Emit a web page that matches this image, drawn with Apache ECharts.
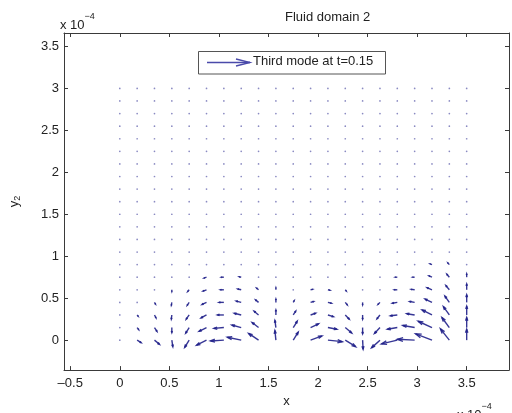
<!DOCTYPE html>
<html>
<head>
<meta charset="utf-8">
<script src="https://cdn.jsdelivr.net/npm/echarts@6/dist/echarts.min.js"></script>
<style>
  html, body { margin: 0; padding: 0; background: #ffffff; }
  #chart { width: 512px; height: 413px; }
</style>
</head>
<body>
<div id="chart"></div>
<script>
// Quiver grid (x, y in units of 1e-4)
const gridX = [0, 0.175, 0.35, 0.525, 0.7, 0.875, 1.05, 1.225, 1.4, 1.575, 1.75,
               1.925, 2.1, 2.275, 2.45, 2.625, 2.8, 2.975, 3.15, 3.325, 3.5];
const gridY = [0, 0.15, 0.3, 0.45, 0.6, 0.75, 0.9, 1.05, 1.2, 1.35, 1.5,
               1.65, 1.8, 1.95, 2.1, 2.25, 2.4, 2.55, 2.7, 2.85, 3.0];

// Tick values
const xTicks = [-0.5, 0, 0.5, 1, 1.5, 2, 2.5, 3, 3.5];
const yTicks = [0, 0.5, 1, 1.5, 2, 2.5, 3, 3.5];

// Velocity components (already scaled to axis units), one row per gridY value
// starting at y = 0; rows not listed carry no visible velocity.
const uRows = [
  [0, 0.04, 0.05, 0.01, -0.045, -0.1, -0.135, -0.14, -0.1, -0.01, 0.05, 0.115, 0.145, 0.105, 0.005, -0.085, -0.16, -0.175, -0.165, -0.09, 0],
  [0, 0.015, 0.025, 0, -0.035, -0.075, -0.1, -0.095, -0.065, -0.01, 0.04, 0.08, 0.09, 0.065, 0, -0.055, -0.1, -0.12, -0.14, -0.075, 0],
  [0, 0.01, 0.015, -0.005, -0.03, -0.055, -0.065, -0.07, -0.045, 0, 0.025, 0.05, 0.055, 0.04, 0, -0.03, -0.07, -0.08, -0.1, -0.06, 0],
  [0, 0.005, 0.01, -0.005, -0.02, -0.045, -0.05, -0.05, -0.03, 0, 0.01, 0.03, 0.035, 0.02, 0, -0.02, -0.05, -0.05, -0.07, -0.045, 0],
  [0, 0, 0.005, 0, -0.015, -0.035, -0.035, -0.035, -0.02, 0, 0.005, 0.02, 0.02, 0.01, 0, -0.01, -0.03, -0.035, -0.05, -0.035, 0],
  [0, 0, 0, 0, -0.01, -0.025, -0.025, -0.02, -0.01, 0, 0, 0.01, 0.01, 0.005, 0, -0.005, -0.02, -0.02, -0.03, -0.025, 0],
  [0, 0, 0, 0, -0.005, -0.015, -0.015, -0.01, -0.005, 0, 0, 0.005, 0.005, 0, 0, 0, -0.01, -0.012, -0.02, -0.015, 0],
  [0, 0, 0, 0, 0, -0.008, -0.008, -0.005, 0, 0, 0, 0, 0, 0, 0, 0, -0.006, -0.008, -0.012, -0.01, 0],
  [0, 0, 0, 0, 0, 0, 0, 0, 0, 0, 0, 0, 0, 0, 0, 0, 0, -0.005, -0.008, -0.006, 0]
];
const vRows = [
  [0, -0.03, -0.05, -0.078, -0.085, -0.06, -0.01, 0.035, 0.08, 0.115, 0.095, 0.05, -0.018, -0.078, -0.108, -0.092, -0.045, 0.01, 0.075, 0.135, 0.13],
  [0, -0.025, -0.045, -0.06, -0.065, -0.045, -0.01, 0.03, 0.06, 0.085, 0.075, 0.045, -0.02, -0.065, -0.075, -0.07, -0.02, 0.025, 0.075, 0.12, 0.12],
  [0, -0.015, -0.035, -0.05, -0.05, -0.035, 0, 0.02, 0.045, 0.06, 0.045, 0.02, -0.02, -0.05, -0.05, -0.045, -0.01, 0.015, 0.06, 0.1, 0.105],
  [0, -0.01, -0.02, -0.035, -0.035, -0.025, 0, 0.015, 0.03, 0.04, 0.02, 0.01, -0.01, -0.03, -0.03, -0.025, -0.01, 0.01, 0.04, 0.075, 0.09],
  [0, -0.005, -0.01, -0.02, -0.02, -0.015, 0, 0.01, 0.02, 0.025, 0.01, 0.005, -0.005, -0.015, -0.015, -0.012, 0, 0.005, 0.025, 0.05, 0.07],
  [0, 0, -0.005, -0.01, -0.01, -0.01, 0, 0.005, 0.01, 0.015, 0.005, 0, 0, -0.008, -0.008, -0.006, 0, 0, 0.015, 0.035, 0.04],
  [0, 0, 0, -0.005, -0.005, -0.005, 0, 0, 0.005, 0.01, 0, 0, 0, -0.004, -0.004, -0.003, 0, 0, 0.01, 0.02, 0.015],
  [0, 0, 0, 0, 0, 0, 0, 0, 0, 0.005, 0, 0, 0, 0, 0, 0, 0, 0, 0.006, 0.012, 0],
  [0, 0, 0, 0, 0, 0, 0, 0, 0, 0, 0, 0, 0, 0, 0, 0, 0, 0, 0, 0.008, 0]
];

const ARROW = '#20208a';
const DOT = '#8a8ac2';
const AXIS = '#3a3a3a';
const FONT = '"Liberation Sans", Arial, Helvetica, sans-serif';

// Flatten grid into [x, y, u, v] records
const field = [];
gridY.forEach(function (y, j) {
  gridX.forEach(function (x, i) {
    const u = uRows[j] ? uRows[j][i] : 0;
    const v = vRows[j] ? vRows[j][i] : 0;
    field.push([x, y, u, v]);
  });
});

function fmtTick(val) {
  return String(val).replace('-', '\u2013');
}

function renderArrow(params, api) {
  const x = api.value(0), y = api.value(1), u = api.value(2), v = api.value(3);
  const p0 = api.coord([x, y]);
  const p1 = api.coord([x + u, y + v]);
  const dx = p1[0] - p0[0], dy = p1[1] - p0[1];
  const len = Math.hypot(dx, dy);
  if (len < 1.6) {
    return {
      type: 'circle',
      shape: { cx: p0[0], cy: p0[1], r: 0.85 },
      style: { fill: DOT }
    };
  }
  // quiver-style head: alpha = beta = 0.33
  const a = 0.33, b = 0.33;
  const h1 = [p1[0] - a * (dx + b * dy), p1[1] - a * (dy - b * dx)];
  const h2 = [p1[0] - a * (dx - b * dy), p1[1] - a * (dy + b * dx)];
  return {
    type: 'group',
    children: [
      { type: 'line', shape: { x1: p0[0], y1: p0[1], x2: p1[0], y2: p1[1] },
        style: { stroke: ARROW, lineWidth: 1.4, opacity: 0.9 } },
      { type: 'polyline', shape: { points: [h1, p1, h2] },
        style: { stroke: ARROW, lineWidth: 1.4, fill: null, opacity: 0.9 } }
    ]
  };
}

const chart = echarts.init(document.getElementById('chart'), null, { renderer: 'canvas' });

const xMin = -0.563, xMax = 3.927, yMin = -0.357, yMax = 3.66;

chart.setOption({
  backgroundColor: '#ffffff',
  animation: false,
  grid: { left: 60, top: 33, right: 3, bottom: 36, containLabel: false },
  xAxis: [
    {
      type: 'value', position: 'bottom', min: xMin, max: xMax,
      axisLine: { show: true, onZero: false, lineStyle: { color: AXIS, width: 1 } },
      axisTick: { show: true, inside: true, length: 4, customValues: xTicks, lineStyle: { color: AXIS } },
      axisLabel: { customValues: xTicks, formatter: fmtTick, fontSize: 13, color: '#222',
                   fontFamily: FONT, margin: 7 },
      splitLine: { show: false },
      name: 'x', nameLocation: 'middle', nameGap: 22,
      nameTextStyle: { fontSize: 13, color: '#222', fontFamily: FONT }
    },
    {
      type: 'value', position: 'top', min: xMin, max: xMax,
      axisLine: { show: true, onZero: false, lineStyle: { color: AXIS, width: 1 } },
      axisTick: { show: true, inside: true, length: 4, customValues: xTicks, lineStyle: { color: AXIS } },
      axisLabel: { show: false },
      splitLine: { show: false }
    }
  ],
  yAxis: [
    {
      type: 'value', position: 'left', min: yMin, max: yMax,
      axisLine: { show: true, onZero: false, lineStyle: { color: AXIS, width: 1 } },
      axisTick: { show: true, inside: true, length: 4, customValues: yTicks, lineStyle: { color: AXIS } },
      axisLabel: { customValues: yTicks, formatter: fmtTick, fontSize: 13, color: '#222',
                   fontFamily: FONT, margin: 5 },
      splitLine: { show: false },
      name: '{b|y}{s|2}', nameLocation: 'middle', nameGap: 42, nameRotate: 90,
      nameTextStyle: {
        fontFamily: FONT, color: '#222',
        rich: {
          b: { fontSize: 13, fontFamily: FONT, color: '#222' },
          s: { fontSize: 9, fontFamily: FONT, color: '#222', verticalAlign: 'bottom', padding: [6, 0, 0, 0] }
        }
      }
    },
    {
      type: 'value', position: 'right', min: yMin, max: yMax,
      axisLine: { show: true, onZero: false, lineStyle: { color: AXIS, width: 1 } },
      axisTick: { show: true, inside: true, length: 4, customValues: yTicks, lineStyle: { color: AXIS } },
      axisLabel: { show: false },
      splitLine: { show: false }
    }
  ],
  series: [
    {
      name: 'Third mode at t=0.15',
      type: 'custom',
      xAxisIndex: 0, yAxisIndex: 0,
      renderItem: renderArrow,
      data: field,
      silent: true,
      clip: false
    }
  ],
  graphic: [
    // title
    { type: 'text', left: 285, top: 11, style: { text: 'Fluid domain 2', fontSize: 13,
      fontFamily: FONT, fill: '#222', textAlign: 'center' } },
    // exponent label on the y axis
    { type: 'text', left: 60, top: 12, style: {
      text: '{n|x 10}{e|\u22124}', fontFamily: FONT, fill: '#222',
      rich: { n: { fontSize: 13, fontFamily: FONT, fill: '#222', padding: [7, 0, 0, 0] },
              e: { fontSize: 9, fontFamily: FONT, fill: '#222', verticalAlign: 'top' } } } },
    // exponent label on the x axis
    { type: 'text', left: 457, top: 402, style: {
      text: '{n|x 10}{e|\u22124}', fontFamily: FONT, fill: '#222',
      rich: { n: { fontSize: 13, fontFamily: FONT, fill: '#222', padding: [7, 0, 0, 0] },
              e: { fontSize: 9, fontFamily: FONT, fill: '#222', verticalAlign: 'top' } } } },
    // legend box
    { type: 'rect', shape: { x: 198.5, y: 51.5, width: 187, height: 22.5 },
      style: { fill: '#ffffff', stroke: '#555', lineWidth: 1 }, z: 10 },
    { type: 'line', shape: { x1: 207, y1: 62.5, x2: 250, y2: 62.5 },
      style: { stroke: '#4a4aaa', lineWidth: 1.3 }, z: 11 },
    { type: 'polyline', shape: { points: [[236, 59], [250, 62.5], [236, 66]] },
      style: { stroke: '#4a4aaa', lineWidth: 1.3, fill: null }, z: 11 },
    { type: 'text', left: 253, top: 55, style: { text: 'Third mode at t=0.15', fontSize: 13,
      fontFamily: FONT, fill: '#222' }, z: 11 }
  ]
});
</script>
</body>
</html>
